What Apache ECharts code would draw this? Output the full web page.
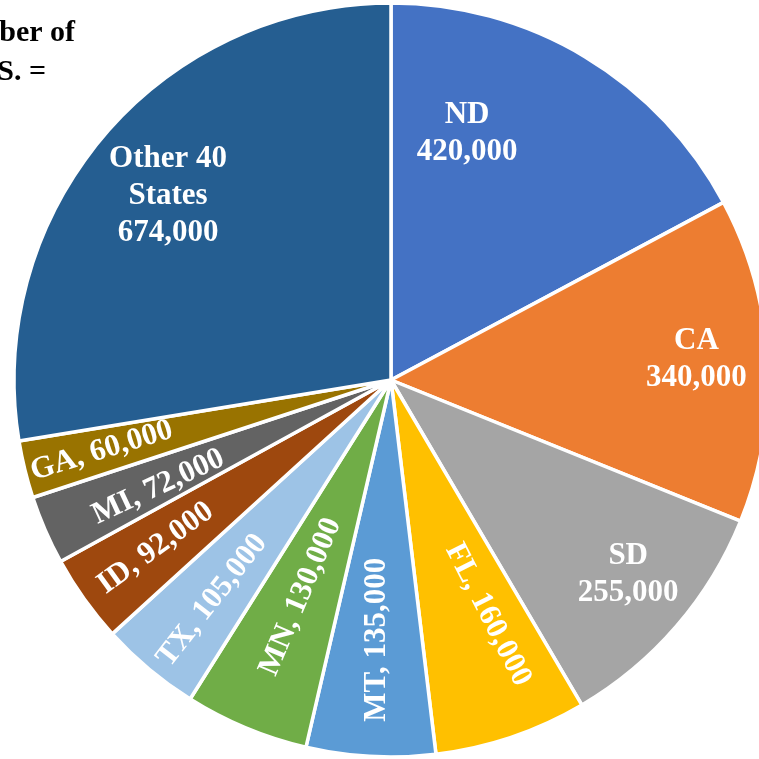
<!DOCTYPE html>
<html>
<head>
<meta charset="utf-8">
<script src="https://cdn.jsdelivr.net/npm/echarts@6/dist/echarts.min.js"></script>
<style>
  html, body { margin: 0; padding: 0; background: #fff; }
  #main { width: 759px; height: 759px; }
</style>
</head>
<body>
<div id="main"></div>
<script>
// data
var states = ['ND', 'CA', 'SD', 'FL', 'MT', 'MN', 'TX', 'ID', 'MI', 'GA', 'Other 40 States'];
var colonies = [420000, 340000, 255000, 160000, 135000, 130000, 105000, 92000, 72000, 60000, 674000];

// styles
var colors = ['#4472C4', '#ED7D31', '#A5A5A5', '#FFC000', '#5B9BD5', '#70AD47',
              '#9DC3E6', '#9E480E', '#636363', '#997300', '#255E91'];
// label placement: fraction of radius, shift from slice mid-angle (deg), rotation (null = flat)
var labelRadius = [0.684, 0.812, 0.814, 0.674, 0.69, 0.623, 0.753, 0.767, 0.679, 0.79, 0.767];
var labelShift = [-13.8, -0.7, -1.4, -3.8, 0, 0, -0.9, 0, -1.2, 0, -0.8];
var labelRotate = [null, null, null, -63, 90, 67, 52, 36, 25, 17, null];

var cx = 391, cy = 380, R = 377;

var total = colonies.reduce(function (a, b) { return a + b; }, 0);
var mids = [];
var acc = 0;
colonies.forEach(function (v) {
  mids.push((acc + v / 2) / total * 360);
  acc += v;
});

function fmt(v) {
  return v.toLocaleString('en-US');
}

var pieData = states.map(function (s, i) {
  var item = {
    name: s,
    value: colonies[i],
    itemStyle: { color: colors[i] }
  };
  if (labelRotate[i] !== null) {
    item.label = { rotate: labelRotate[i] };
  }
  return item;
});

var myChart = echarts.init(document.getElementById('main'));
var option = {
  animation: false,
  graphic: [
    {
      type: 'text', x: 75, y: 33,
      style: {
        text: 'Total Number of', fill: '#000',
        font: 'bold 30px "Liberation Serif"',
        align: 'right', verticalAlign: 'middle'
      }
    },
    {
      type: 'text', x: 46, y: 72,
      style: {
        text: 'Colonies in U.S. =', fill: '#000',
        font: 'bold 30px "Liberation Serif"',
        align: 'right', verticalAlign: 'middle'
      }
    }
  ],
  series: [
    {
      type: 'pie',
      center: [cx, cy],
      radius: R,
      startAngle: 90,
      clockwise: true,
      avoidLabelOverlap: false,
      itemStyle: {
        borderColor: '#fff',
        borderWidth: 3.5
      },
      label: {
        show: true,
        position: 'inside',
        color: '#fff',
        fontFamily: 'Liberation Serif',
        fontWeight: 'bold',
        fontSize: 31,
        lineHeight: 37,
        formatter: function (p) {
          var i = p.dataIndex;
          if (labelRotate[i] !== null) {
            return p.name + ', ' + fmt(p.value);
          }
          return p.name.replace(' States', '\nStates') + '\n' + fmt(p.value);
        }
      },
      labelLine: { show: false },
      labelLayout: function (p) {
        var i = p.dataIndex;
        var a = (mids[i] + labelShift[i]) * Math.PI / 180;
        var r = R * labelRadius[i];
        return {
          x: cx + r * Math.sin(a),
          y: cy - r * Math.cos(a)
        };
      },
      emphasis: { disabled: true },
      data: pieData
    }
  ]
};
myChart.setOption(option);
</script>
</body>
</html>
